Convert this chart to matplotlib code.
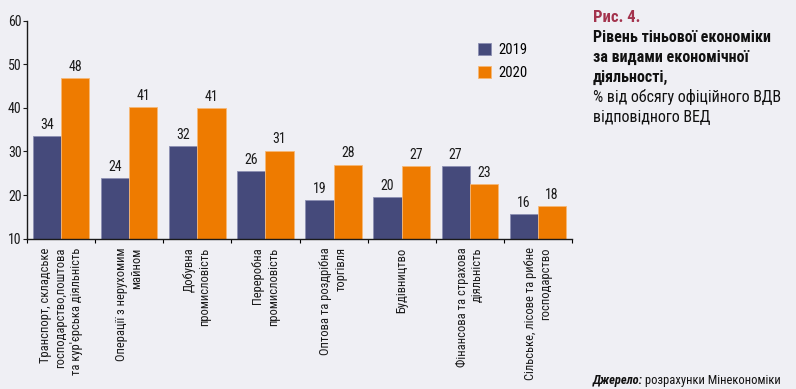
import matplotlib
matplotlib.use("Agg")
import matplotlib.pyplot as plt
import numpy as np

# Categories (economic activity types)
categories = [
    "Транспорт, складське\nгосподарство,поштова\nта кур'єрська діяльність",
    "Операції з нерухомим\nмайном",
    "Добувна\nпромисловість",
    "Переробна\nпромисловість",
    "Оптова та роздрібна\nторгівля",
    "Будівництво",
    "Фінансова та страхова\nдіяльність",
    "Сільське, лісове та рибне\nгосподарство",
]
# bar heights as drawn, and the rounded labels printed above them
values_2019 = [33.5, 23.9, 31.3, 25.6, 18.8, 19.5, 26.7, 15.7]
values_2020 = [46.8, 40.2, 39.9, 30.2, 27.0, 26.7, 22.6, 17.4]
labels_2019 = [34, 24, 32, 26, 19, 20, 27, 16]
labels_2020 = [48, 41, 41, 31, 28, 27, 23, 18]
series_names = ["2019", "2020"]

bg = "#efeff4"
navy = "#454a7b"
orange = "#ee7b00"

narrow = ["Roboto Condensed", "PT Sans Narrow", "DejaVu Sans"]
plt.rcParams["font.family"] = narrow

fig = plt.figure(figsize=(7.96, 3.89), dpi=100, facecolor=bg)
ax = fig.add_axes([27 / 796, 1 - 238.7 / 389, 545 / 796, 218 / 389])
ax.set_facecolor(bg)

x = np.arange(len(categories))
w = 0.415
b1 = ax.bar(x - w / 2, np.array(values_2019) - 10, w, bottom=10, color=navy,
            edgecolor="#8d90b3", linewidth=0.6, label=series_names[0])
b2 = ax.bar(x + w / 2, np.array(values_2020) - 10, w, bottom=10, color=orange,
            edgecolor="#f6b877", linewidth=0.6, label=series_names[1])

for xi, v, lab in zip(x - w / 2, values_2019, labels_2019):
    ax.annotate(str(lab), (xi, v), xytext=(0, 3), textcoords="offset points",
                ha="center", va="bottom", fontsize=10, color="#1a1a1a")
for xi, v, lab in zip(x + w / 2, values_2020, labels_2020):
    ax.annotate(str(lab), (xi, v), xytext=(0, 3), textcoords="offset points",
                ha="center", va="bottom", fontsize=10, color="#1a1a1a")

ax.set_xlim(-0.5, len(categories) - 0.5)
ax.set_ylim(10, 60)
ax.set_yticks(range(10, 61, 10))
ax.tick_params(axis="y", labelsize=10, length=3, width=0.8, pad=1, colors="#1a1a1a")

# ticks between categories, labels centered on categories
ax.set_xticks(np.arange(len(categories) + 1) - 0.5)
ax.set_xticklabels([])
ax.tick_params(axis="x", length=3, width=0.8, direction="out")
for xi, cat in zip(x, categories):
    ax.text(xi, -0.04, cat, transform=ax.get_xaxis_transform(), rotation=90,
            ha="center", va="top", multialignment="right", fontsize=9,
            linespacing=1.25, color="#1a1a1a")

for s in ["top", "right"]:
    ax.spines[s].set_visible(False)
for s in ["left", "bottom"]:
    ax.spines[s].set_linewidth(1.0)
    ax.spines[s].set_color("#1a1a1a")

leg = ax.legend(loc="upper left", bbox_to_anchor=(444 / 545, 1 - 15 / 218),
                frameon=False, fontsize=10.5, handlelength=0.9, handleheight=0.9,
                handletextpad=0.5, labelspacing=0.6, borderpad=0)

# title block on the right
tx = 593 / 796
def fy(py):
    return 1 - py / 389

fig.text(tx, fy(22), "Рис. 4.", fontsize=12, fontweight="bold", color="#a3334d",
         va="baseline")
bold_lines = ["Рівень тіньової економіки", "за видами економічної", "діяльності,"]
for i, line in enumerate(bold_lines):
    fig.text(tx, fy(42 + 20 * i), line, fontsize=11.5, fontweight="bold",
             color="#111111", va="baseline")
reg_lines = ["% від обсягу офіційного ВДВ", "відповідного ВЕД"]
for i, line in enumerate(reg_lines):
    fig.text(tx, fy(102 + 20 * i), line, fontsize=11.5, color="#111111", va="baseline")

# source
src = fig.text(593 / 796, fy(384), "Джерело:", fontsize=9, fontweight="bold",
               fontstyle="italic", color="#111111", va="baseline")
fig.canvas.draw()
bb = src.get_window_extent()
fig.text((bb.x1 + 2) / 796, fy(384), "розрахунки Мінекономіки", fontsize=9,
         color="#111111", va="baseline")

fig.savefig("out.png", dpi=100, facecolor=bg)
